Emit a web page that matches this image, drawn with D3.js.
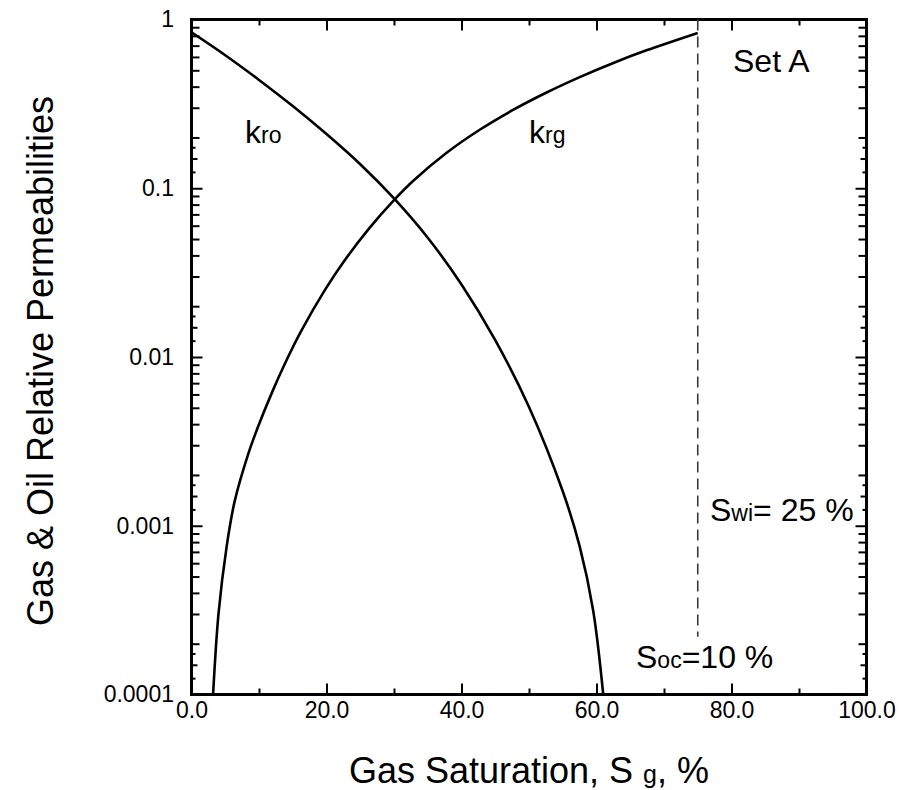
<!DOCTYPE html>
<html>
<head>
<meta charset="utf-8">
<script src="https://cdn.jsdelivr.net/npm/d3@7"></script>
<style>
  html, body { margin: 0; padding: 0; background: #fff; }
  svg { display: block; font-family: "Liberation Sans", Arial, Helvetica, sans-serif; }
</style>
</head>
<body>
<svg id="chart" width="903" height="790"></svg>
<script>
// Gas saturation (%) and relative permeability for each curve
const krgSg = [3.2, 4.0, 5.2, 6.4, 8.4, 9.9, 11.9, 13.9, 16.3, 19.8, 22.7, 26.2, 30.1, 32.9, 37.8, 42.7, 47.7, 52.6, 57.6, 62.5, 67.4, 75.0];
const krgVal = [0.0001, 0.0003, 0.00075, 0.0014, 0.00266, 0.0039, 0.00613, 0.00924, 0.01437, 0.02506, 0.0374, 0.0571, 0.0859, 0.1112, 0.1623, 0.2221, 0.292, 0.3693, 0.4574, 0.5529, 0.6566, 0.833];

const kroSg = [0, 5, 10, 15, 20, 25, 30, 35, 40, 45, 50, 55, 57.5, 59.5, 61.0];
const kroVal = [0.839, 0.614, 0.4385, 0.307, 0.2094, 0.1387, 0.087, 0.0509, 0.0269, 0.01258, 0.00506, 0.0016, 0.000758, 0.000316, 0.0001];

// Irreducible-water cutoff line (Sg = 75 %)
const cutoffSg = 75;
const cutoffRange = [1, 0.00022];

// Axis ticks
const xMajorTicks = [0, 20, 40, 60, 80, 100];
const xMinorTicks = [10, 30, 50, 70, 90];
const yMajorTicks = [1, 0.1, 0.01, 0.001, 0.0001];
const yMajorLabels = ["1", "0.1", "0.01", "0.001", "0.0001"];
const yMinorMultipliers = [2, 3, 4, 5, 6, 7, 8, 9];
const yHalfMultipliers = [1.5];
const yQuarterMultipliers = [1.25, 1.75];

const svg = d3.select("#chart");
const plotLeft = 191.5, plotTop = 19.5, plotSize = 675;
const tickFont = 23;

const x = d3.scaleLinear().domain([0, 100]).range([plotLeft, plotLeft + plotSize]);
const y = d3.scaleLog().domain([0.0001, 1]).range([plotTop + plotSize, plotTop]);

const decades = [0.0001, 0.001, 0.01, 0.1];
const yTicksFor = mults => decades.flatMap(d => mults.map(m => m * d));

// ticks on bottom and top, pointing inward
function drawXAxes(values, len, withLabels) {
  const bottom = d3.axisBottom(x).tickValues(values).tickSize(-len).tickSizeOuter(0).tickPadding(7)
    .tickFormat(withLabels ? d3.format(".1f") : "");
  const topAx = d3.axisTop(x).tickValues(values).tickSize(-len).tickSizeOuter(0).tickFormat("");
  const gB = svg.append("g").attr("transform", `translate(0,${plotTop + plotSize})`).call(bottom);
  const gT = svg.append("g").attr("transform", `translate(0,${plotTop})`).call(topAx);
  [gB, gT].forEach(g => {
    g.select(".domain").remove();
    g.attr("font-family", null);
    g.selectAll("line").attr("stroke", "#000").attr("stroke-width", 2);
  });
  gB.selectAll("text").attr("font-size", tickFont).attr("fill", "#000");
}
drawXAxes(xMajorTicks, 11, true);
drawXAxes(xMinorTicks, 6, false);

// ticks on left and right, pointing inward
function drawYAxes(values, len, labels) {
  const la = d3.axisLeft(y).tickValues(values).tickSize(-len).tickSizeOuter(0).tickPadding(17.5)
    .tickFormat(labels ? ((d, i) => labels[i]) : "");
  const ra = d3.axisRight(y).tickValues(values).tickSize(-len).tickSizeOuter(0).tickFormat("");
  const gL = svg.append("g").attr("transform", `translate(${plotLeft},0)`).call(la);
  const gR = svg.append("g").attr("transform", `translate(${plotLeft + plotSize},0)`).call(ra);
  [gL, gR].forEach(g => {
    g.select(".domain").remove();
    g.attr("font-family", null);
    g.selectAll("line").attr("stroke", "#000").attr("stroke-width", 2);
  });
  gL.selectAll("text").attr("font-size", tickFont).attr("fill", "#000");
}
drawYAxes(yMajorTicks, 11, yMajorLabels);
drawYAxes(yTicksFor(yMinorMultipliers), 8, null);
drawYAxes(yTicksFor(yHalfMultipliers), 6, null);
drawYAxes(yTicksFor(yQuarterMultipliers), 4, null);

// plot frame
svg.append("rect")
  .attr("x", plotLeft).attr("y", plotTop).attr("width", plotSize).attr("height", plotSize)
  .attr("fill", "none").attr("stroke", "#000").attr("stroke-width", 3);

// clip so curves stop at the frame
svg.append("clipPath").attr("id", "plotClip")
  .append("rect").attr("x", plotLeft).attr("y", plotTop).attr("width", plotSize).attr("height", plotSize);

const line = d3.line().x(d => x(d[0])).y(d => y(d[1])).curve(d3.curveCatmullRom.alpha(0.5));
const plot = svg.append("g").attr("clip-path", "url(#plotClip)");

plot.append("path")
  .datum(krgSg.map((s, i) => [s, krgVal[i]]))
  .attr("d", line).attr("fill", "none").attr("stroke", "#000").attr("stroke-width", 2.6);

plot.append("path")
  .datum(kroSg.map((s, i) => [s, kroVal[i]]))
  .attr("d", line).attr("fill", "none").attr("stroke", "#000").attr("stroke-width", 2.6);

// dashed cutoff
svg.append("line")
  .attr("x1", x(cutoffSg)).attr("x2", x(cutoffSg))
  .attr("y1", y(cutoffRange[0])).attr("y2", y(cutoffRange[1]))
  .attr("stroke", "#3a3a3a").attr("stroke-width", 1.6).attr("stroke-dasharray", "11,6");

// labels with subscripts
function label(px, py, main, sub, rest, size, subSize) {
  const t = svg.append("text").attr("x", px).attr("y", py).attr("font-size", size).attr("fill", "#000");
  t.append("tspan").text(main);
  if (sub) t.append("tspan").attr("font-size", subSize).text(sub);
  if (rest) t.append("tspan").text(rest);
  return t;
}
label(245, 143, "k", "ro", null, 32, 23);
label(529, 143, "k", "rg", null, 32, 23);
label(733, 72, "Set A", null, null, 32, 23);
label(710, 521, "S", "wi", "= 25 %", 32, 23);
label(636, 668, "S", "oc", "=10 %", 32, 23);

// axis titles
const xt = svg.append("text").attr("x", x(50)).attr("y", 783).attr("text-anchor", "middle")
  .attr("font-size", 36).attr("fill", "#000");
xt.append("tspan").text("Gas Saturation, S ");
xt.append("tspan").attr("font-size", 25).text("g");
xt.append("tspan").text(", %");

svg.append("text")
  .attr("transform", `translate(53,${plotTop + plotSize / 2 + 4}) rotate(-90)`)
  .attr("text-anchor", "middle").attr("font-size", 36).attr("fill", "#000")
  .text("Gas & Oil Relative Permeabilities");
</script>
</body>
</html>
